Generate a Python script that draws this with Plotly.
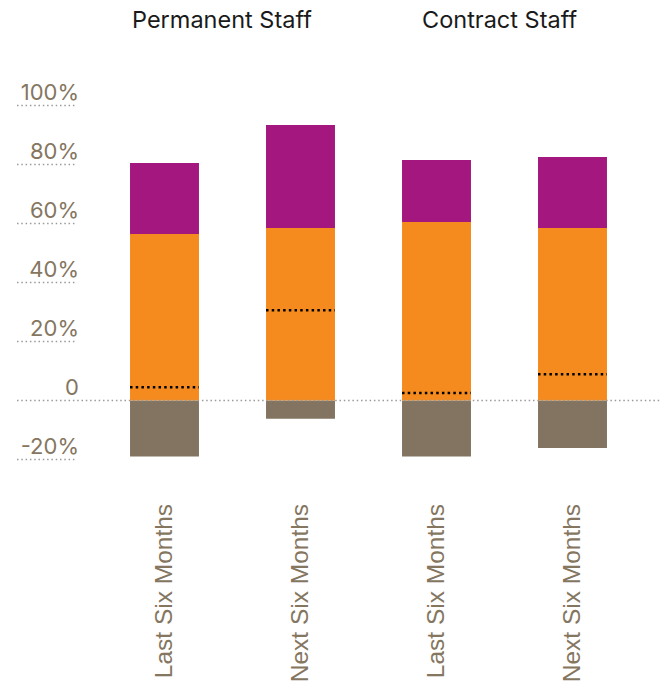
import plotly.graph_objects as go

# Survey responses by staff type and period (% of respondents)
groups = ["Permanent Staff", "Contract Staff"]
periods = ["Last Six Months", "Next Six Months", "Last Six Months", "Next Six Months"]
decrease = [-19.0, -6.2, -19.0, -16.1]
no_change = [56.4, 58.5, 60.5, 58.5]
increase = [24.1, 34.9, 21.0, 24.0]
net_balance = [4.5, 30.6, 2.5, 8.9]

y_ticks = [-20, 0, 20, 40, 60, 80, 100]
y_tick_text = ["-20%", "0", "20%", "40%", "60%", "80%", "100%"]

PURPLE = "#A3177F"
ORANGE = "#F58B1F"
BROWN = "#827461"
LABEL = "#85765F"
DOT_GREY = "#9A9A9A"

xpos = list(range(len(periods)))
bar_width = 0.507

fig = go.Figure()
fig.add_trace(go.Bar(x=xpos, y=decrease, marker_color=BROWN, width=bar_width,
                     marker_line_width=0, name="Decrease"))
fig.add_trace(go.Bar(x=xpos, y=no_change, marker_color=ORANGE, width=bar_width,
                     marker_line_width=0, name="No change"))
fig.add_trace(go.Bar(x=xpos, y=increase, marker_color=PURPLE, width=bar_width,
                     marker_line_width=0, name="Increase"))

# Net balance marker across each bar
for xi, nb in zip(xpos, net_balance):
    fig.add_trace(go.Scatter(
        x=[xi - bar_width / 2, xi + bar_width / 2], y=[nb, nb], mode="lines",
        line=dict(color="black", width=2.5, dash="2.5px,3.2px"),
        hoverinfo="skip", showlegend=False))

# Dotted underlines under each y tick label; the zero one runs across the chart
left_px, right_px = 80, 661
span = right_px - left_px
for v in y_ticks:
    x1 = 1.0 if v == 0 else (76 - left_px) / span
    fig.add_shape(type="line", xref="paper", yref="y",
                  x0=(17 - left_px) / span, x1=x1, y0=v, y1=v,
                  line=dict(color=DOT_GREY, width=1.5, dash="1.5px,2.8px"),
                  layer="above")

# Group headings above each pair of bars
group_centers = [0.42, 2.46]
for g, cx in zip(groups, group_centers):
    fig.add_annotation(x=cx, xref="x", y=1.0, yref="paper", yanchor="middle",
                       yshift=41, text=g, showarrow=False,
                       font=dict(family="Inter", size=23.5, color="#1a1a1a"))

fig.update_layout(
    width=661, height=686,
    margin=dict(l=left_px, r=0, t=60, b=188),
    plot_bgcolor="white", paper_bgcolor="white",
    barmode="relative", showlegend=False,
    xaxis=dict(range=[(left_px - 164.5) / 136, (661 - 164.5) / 136],
               tickvals=xpos, ticktext=periods, tickangle=-90,
               tickfont=dict(family="Liberation Sans", size=24.5, color=LABEL),
               showgrid=False, zeroline=False, showline=False, ticks=""),
    yaxis=dict(range=[-33.05, 115.4], tickvals=y_ticks, ticktext=y_tick_text,
               tickfont=dict(family="Inter", size=22, color=LABEL),
               ticklabelshift=-13,
               showgrid=False, zeroline=False, showline=False, ticks=""),
)

fig.write_html("out.html")
